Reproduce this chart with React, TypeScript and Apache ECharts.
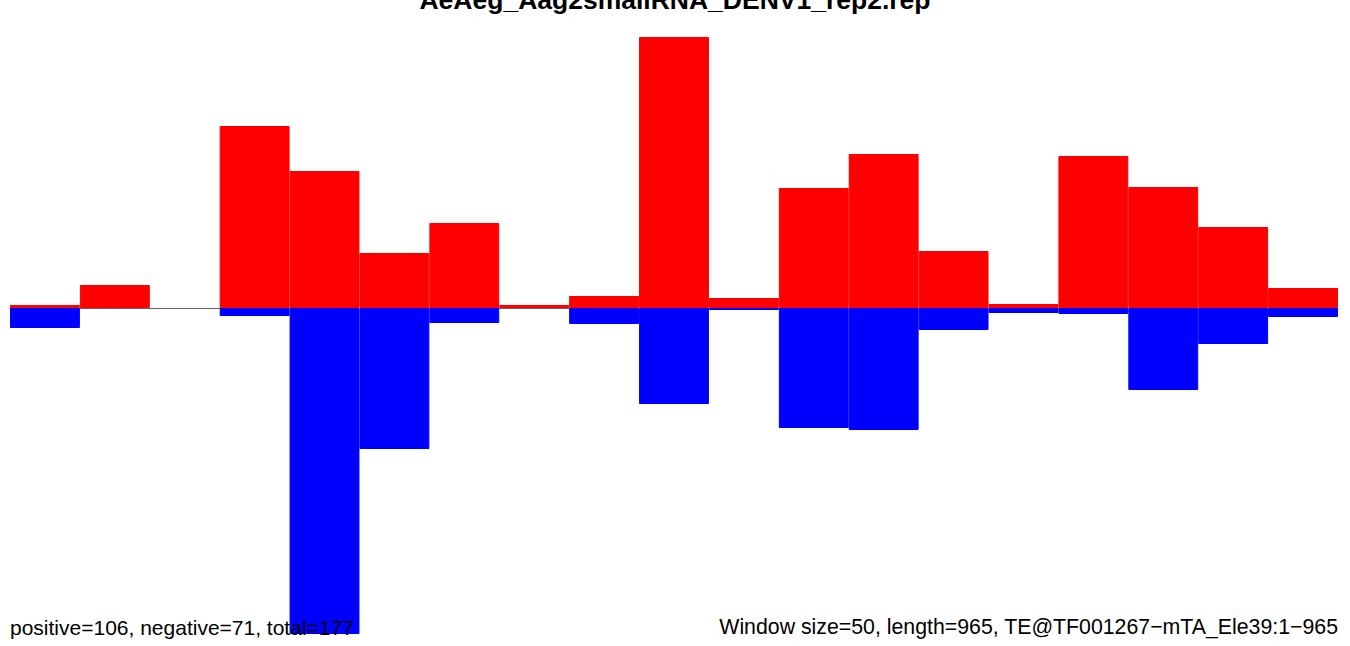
import React, { useEffect, useRef } from "react";
import * as echarts from "echarts";

const titleText = "AeAeg_Aag2smallRNA_DENV1_rep2.rep";
const leftNote = "positive=106, negative=71, total=177";
const rightNote = "Window size=50, length=965, TE@TF001267\u2212mTA_Ele39:1\u2212965";

const windows = ["1", "51", "101", "151", "201", "251", "301", "351", "401", "451", "501", "551", "601", "651", "701", "751", "801", "851", "901"];
const positiveValues = [3, 23, 0, 182, 137, 55, 85, 3, 12, 271, 10, 120, 154, 57, 4, 152, 121, 81, 20];
const negativeValues = [-20, 0, 0, -8, -326, -141, -15, 0, -16, -96, -2, -120, -122, -22, -5, -6, -82, -36, -9];

const toItems = (vals: number[], color: string) =>
  vals.map((v) => ({
    value: v,
    itemStyle: { color, borderColor: color, borderWidth: v === 0 ? 0 : 1 },
  }));

export default function App() {
  const ref = useRef<HTMLDivElement>(null);
  useEffect(() => {
    if (!ref.current) return;
    const chart = echarts.init(ref.current, null, { renderer: "svg" });
    chart.setOption({
      animation: false,
      backgroundColor: "#ffffff",
      grid: { left: 10, right: 12, top: 37, bottom: 12, containLabel: false },
      xAxis: {
        type: "category",
        data: windows,
        boundaryGap: true,
        axisLine: { show: true, onZero: true, lineStyle: { color: "#666666", width: 1 } },
        axisTick: { show: false },
        axisLabel: { show: false },
        splitLine: { show: false },
      },
      yAxis: {
        type: "value",
        min: -326,
        max: 271,
        show: false,
        splitLine: { show: false },
      },
      series: [
        {
          type: "bar",
          data: toItems(negativeValues, "#0000ff"),
          barWidth: "100%",
          barGap: "-100%",
          z: 2,
        },
        {
          type: "bar",
          data: toItems(positiveValues, "#ff0000"),
          barWidth: "100%",
          barGap: "-100%",
          z: 3,
        },
      ],
      graphic: [
        {
          type: "text",
          x: 675,
          y: -0.5,
          style: {
            text: titleText,
            font: "bold 26.5px 'Liberation Sans', Arial, sans-serif",
            fill: "#000000",
            textAlign: "center",
            textVerticalAlign: "middle",
          },
          z: 10,
        },
        {
          type: "text",
          x: 10,
          y: 627,
          style: {
            text: leftNote,
            font: "21px 'Liberation Sans', Arial, sans-serif",
            fill: "#000000",
            textAlign: "left",
            textVerticalAlign: "middle",
          },
          z: 10,
        },
        {
          type: "text",
          x: 1338,
          y: 627,
          style: {
            text: rightNote,
            font: "21.3px 'Liberation Sans', Arial, sans-serif",
            fill: "#000000",
            textAlign: "right",
            textVerticalAlign: "middle",
          },
          z: 10,
        },
      ],
    });
    return () => chart.dispose();
  }, []);
  return <div ref={ref} style={{ width: 1350, height: 646, position: "fixed", left: 0, top: 0 }} />;
}
